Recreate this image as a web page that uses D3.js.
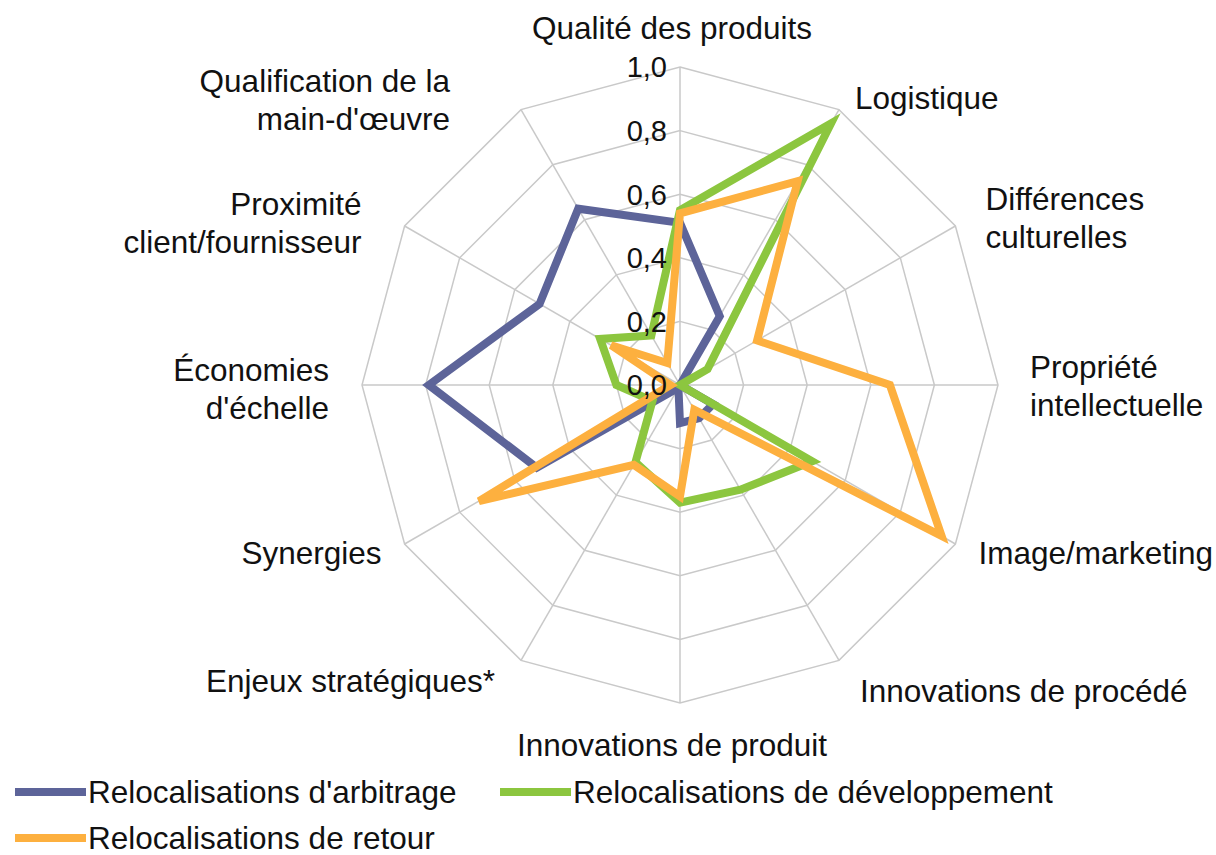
<!DOCTYPE html>
<html>
<head>
<meta charset="utf-8">
<script src="https://cdn.jsdelivr.net/npm/d3@7"></script>
<style>
  body { margin: 0; background: #fff; }
  svg text { font-family: "Liberation Sans", Arial, sans-serif; fill: #111; }
</style>
</head>
<body>
<div id="chart"></div>
<script>
// axes, clockwise from the top
const categories = [
    "Qualité des produits", "Logistique", "Différences culturelles",
    "Propriété intellectuelle", "Image/marketing", "Innovations de procédé",
    "Innovations de produit", "Enjeux stratégiques*", "Synergies",
    "Économies d'échelle", "Proximité client/fournisseur",
    "Qualification de la main-d'œuvre"
];
const arbitrage     = [0.51, 0.25, 0.00, 0.00, 0.12, 0.12, 0.12, 0.01, 0.52, 0.79, 0.51, 0.64];
const developpement = [0.55, 0.95, 0.10, 0.00, 0.48, 0.38, 0.37, 0.28, 0.10, 0.20, 0.29, 0.18];
const retour        = [0.54, 0.74, 0.28, 0.66, 0.95, 0.09, 0.35, 0.29, 0.73, 0.03, 0.25, 0.08];
const seriesNames = ["Relocalisations d'arbitrage", "Relocalisations de développement", "Relocalisations de retour"];
const tickValues = [0, 0.2, 0.4, 0.6, 0.8, 1.0];
const tickLabels = ["0,0", "0,2", "0,4", "0,6", "0,8", "1,0"];

const width = 1216, height = 855;
const cx = 680, cy = 385, R = 318;
const colors = ["#5d6499", "#8cc63f", "#fdb03f"];

// how each axis label is split and placed (offset from the end of its spoke)
const labelLayout = [
    { lines: ["Qualité des produits"], anchor: "middle", dx: -8, dy: -39 },
    { lines: ["Logistique"], anchor: "start", dx: 16, dy: -12 },
    { lines: ["Différences", "culturelles"], anchor: "start", dx: 30, dy: -8 },
    { lines: ["Propriété", "intellectuelle"], anchor: "start", dx: 32, dy: 1 },
    { lines: ["Image/marketing"], anchor: "start", dx: 23, dy: 9 },
    { lines: ["Innovations de procédé"], anchor: "start", dx: 21, dy: 30 },
    { lines: ["Innovations de produit"], anchor: "middle", dx: -8, dy: 42 },
    { lines: ["Enjeux stratégiques*"], anchor: "end", dx: -26, dy: 20 },
    { lines: ["Synergies"], anchor: "end", dx: -23, dy: 9 },
    { lines: ["Économies", "d'échelle"], anchor: "end", dx: -33, dy: 4 },
    { lines: ["Proximité", "client/fournisseur"], anchor: "end", dx: -43, dy: -3 },
    { lines: ["Qualification de la", "main-d'œuvre"], anchor: "end", dx: -71, dy: -10 }
];

const svg = d3.select("#chart")
    .append("svg")
    .attr("width", width)
    .attr("height", height);

const r = d3.scaleLinear().domain([0, 1]).range([0, R]);
const angle = d3.scalePoint()
    .domain(d3.range(categories.length + 1))
    .range([0, 2 * Math.PI]);

const point = (i, v) => {
    const a = angle(i);
    return [cx + r(v) * Math.sin(a), cy - r(v) * Math.cos(a)];
};

const g = svg.append("g");

// grid rings
g.selectAll(".ring")
    .data(tickValues.slice(1))
    .join("polygon")
    .attr("class", "ring")
    .attr("points", v => categories.map((c, i) => point(i, v).join(",")).join(" "))
    .attr("fill", "none")
    .attr("stroke", "#c9c9c9")
    .attr("stroke-width", 1.5);

// spokes
g.selectAll(".spoke")
    .data(categories)
    .join("line")
    .attr("class", "spoke")
    .attr("x1", cx).attr("y1", cy)
    .attr("x2", (d, i) => point(i, 1)[0])
    .attr("y2", (d, i) => point(i, 1)[1])
    .attr("stroke", "#c9c9c9")
    .attr("stroke-width", 1.5);

// series
const radial = d3.lineRadial()
    .angle((d, i) => angle(i))
    .radius(d => r(d))
    .curve(d3.curveLinearClosed);

const series = [arbitrage, developpement, retour];
g.selectAll(".series")
    .data(series)
    .join("path")
    .attr("class", "series")
    .attr("transform", `translate(${cx},${cy})`)
    .attr("d", d => radial(d))
    .attr("fill", "none")
    .attr("stroke", (d, i) => colors[i])
    .attr("stroke-width", 8)
    .attr("stroke-linejoin", "miter");

// tick labels
g.selectAll(".tick-label")
    .data(tickValues)
    .join("text")
    .attr("class", "tick-label")
    .attr("x", cx - 13)
    .attr("y", d => cy - r(d))
    .attr("dy", "0.36em")
    .attr("text-anchor", "end")
    .style("font-size", "29px")
    .text((d, i) => tickLabels[i]);

// axis labels
const lineH = 38;
const labels = g.selectAll(".axis-label")
    .data(labelLayout)
    .join("text")
    .attr("class", "axis-label")
    .attr("text-anchor", d => d.anchor)
    .style("font-size", "31.5px");

labels.each(function(d, i) {
    const [x, y] = point(i, 1);
    const n = d.lines.length;
    d3.select(this).selectAll("tspan")
        .data(d.lines)
        .join("tspan")
        .attr("x", x + d.dx)
        .attr("y", (t, j) => y + d.dy + (j - (n - 1) / 2) * lineH)
        .attr("dy", "0.36em")
        .text(t => t);
});

// legend
const legendPos = [[15, 792], [500, 792], [15, 838]];
const legend = svg.selectAll(".legend")
    .data(seriesNames)
    .join("g")
    .attr("class", "legend")
    .attr("transform", (d, i) => `translate(${legendPos[i][0]},${legendPos[i][1]})`);

legend.append("line")
    .attr("x1", 0).attr("x2", 71)
    .attr("stroke", (d, i) => colors[i])
    .attr("stroke-width", 8);

legend.append("text")
    .attr("x", 73)
    .attr("dy", "0.36em")
    .style("font-size", "31.5px")
    .text(d => d);
</script>
</body>
</html>
